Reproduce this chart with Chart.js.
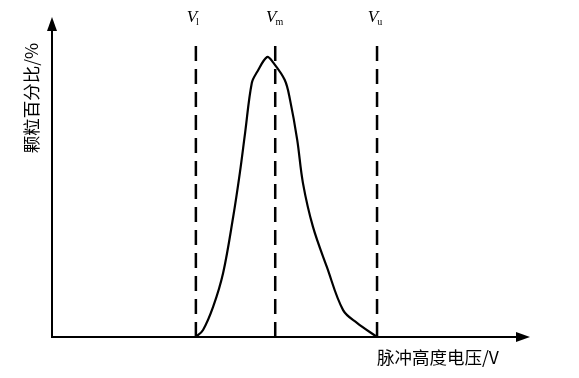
<!DOCTYPE html>
<html>
<head>
<meta charset="utf-8">
<script src="https://cdn.jsdelivr.net/npm/chart.js@4"></script>
<style>
  html, body { margin: 0; padding: 0; background: #fff; }
  #wrap { width: 579px; height: 378px; }
</style>
</head>
<body>
<div id="wrap"><canvas id="pulseChart"></canvas></div>
<script>
// schematic: particle % vs pulse height voltage (arbitrary units 0..100)
const curveX = [30.1, 31.6, 33.7, 35.8, 37.9, 39.3, 40.4, 41.8, 42.9, 45.0, 46.2, 48.7, 49.8, 51.3, 52.5, 54.6, 57.5, 60.9, 63.8, 68.0];
const curveY = [0, 2.2, 9.4, 20, 37.5, 51.3, 63.8, 79.4, 82.8, 87.5, 85.9, 80.3, 74.1, 61.6, 48.1, 34.4, 21.9, 8.4, 4.4, 0];

const markerNames = ['l', 'm', 'u'];   // V_l, V_m, V_u
const markerX = [30.1, 46.7, 68.0];
const markerTop = 92.8;

const xTitle = '脉冲高度电压/V';
const yTitle = '颗粒百分比/%';

const serif = '"Liberation Serif", "DejaVu Serif", serif';
const cjk = '"Noto Sans CJK SC", "Liberation Serif", serif';

const datasets = [{
    data: curveX.map((x, i) => ({ x: x, y: curveY[i] })),
    borderColor: '#000',
    borderWidth: 2.2,
    pointRadius: 0,
    tension: 0.35,
    capBezierPoints: true
}];
markerX.forEach(v => {
    datasets.push({
        data: [{ x: v, y: 0 }, { x: v, y: markerTop }],
        borderColor: '#000',
        borderWidth: 2.5,
        borderDash: [15, 8],
        pointRadius: 0
    });
});

// arrows, axis titles and V labels
const decor = {
    id: 'decor',
    afterDraw(chart) {
        const c = chart.ctx;
        const a = chart.chartArea;
        const xs = chart.scales.x;
        c.save();
        c.fillStyle = '#000';
        c.strokeStyle = '#000';
        c.lineWidth = 2;
        // axes
        c.beginPath();
        c.moveTo(a.left, a.top + 10);
        c.lineTo(a.left, a.bottom);
        c.lineTo(a.right - 10, a.bottom);
        c.stroke();
        // y arrow
        c.beginPath();
        c.moveTo(a.left, a.top);
        c.lineTo(a.left - 5, a.top + 14);
        c.lineTo(a.left + 5, a.top + 14);
        c.closePath();
        c.fill();
        // x arrow
        c.beginPath();
        c.moveTo(a.right, a.bottom);
        c.lineTo(a.right - 14, a.bottom - 5);
        c.lineTo(a.right - 14, a.bottom + 5);
        c.closePath();
        c.fill();

        // x title
        c.font = '17.5px ' + cjk;
        c.textAlign = 'left';
        c.textBaseline = 'middle';
        c.fillText(xTitle, 377, 357);

        // y title, rotated
        c.save();
        c.translate(31, 98);
        c.rotate(-Math.PI / 2);
        c.textAlign = 'center';
        c.fillText(yTitle, 0, 0);
        c.restore();

        // V labels
        markerX.forEach((v, i) => {
            const px = xs.getPixelForValue(v);
            c.font = 'italic 17px ' + serif;
            c.textAlign = 'center';
            c.textBaseline = 'alphabetic';
            c.fillText('V', px - 4, 22);
            const w = c.measureText('V').width;
            c.font = '10px ' + serif;
            c.textAlign = 'left';
            c.fillText(markerNames[i], px - 4 + w / 2 - 1, 25);
        });
        c.restore();
    }
};

new Chart(document.getElementById('pulseChart'), {
    type: 'line',
    data: { datasets: datasets },
    options: {
        responsive: true,
        maintainAspectRatio: false,
        animation: false,
        layout: { padding: { left: 52, right: 49, top: 17, bottom: 41 } },
        plugins: { legend: { display: false }, tooltip: { enabled: false } },
        scales: {
            x: {
                type: 'linear', min: 0, max: 100,
                display: true,
                grid: { display: false, drawTicks: false },
                border: { display: false },
                ticks: { display: false }
            },
            y: {
                min: 0, max: 100,
                display: true,
                grid: { display: false, drawTicks: false },
                border: { display: false },
                ticks: { display: false }
            }
        }
    },
    plugins: [decor]
});
</script>
</body>
</html>
